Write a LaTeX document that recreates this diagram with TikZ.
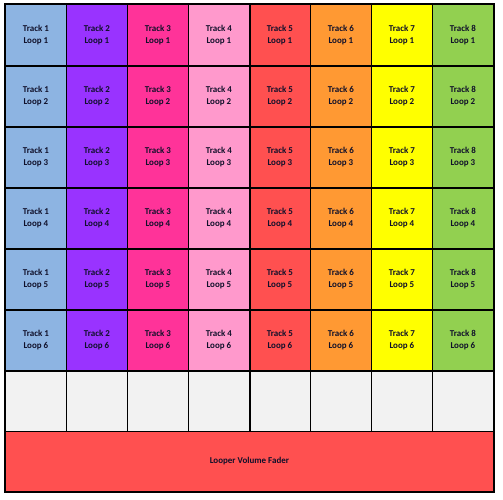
\documentclass[tikz,border=0pt]{standalone}
\usepackage{fontspec}
\setmainfont{Carlito}[BoldFont={Carlito Bold}]
\definecolor{c1}{HTML}{8DB4E2}
\definecolor{c2}{HTML}{9933FF}
\definecolor{c3}{HTML}{FF3399}
\definecolor{c4}{HTML}{FF99CC}
\definecolor{c5}{HTML}{FF5050}
\definecolor{c6}{HTML}{FF9933}
\definecolor{c7}{HTML}{FFFF00}
\definecolor{c8}{HTML}{92D050}
\definecolor{blank}{HTML}{F2F2F2}
\definecolor{fader}{HTML}{FF5050}
\definecolor{txt}{HTML}{10102A}
\tikzset{
  cell/.style={draw=black, line width=0.8bp, minimum width=61bp, minimum height=61bp,
    inner sep=0pt, anchor=north west, align=center, text=txt,
    font=\bfseries\fontsize{9}{12}\selectfont},
  thick line/.style={draw=black, line width=1.6bp}
}
\begin{document}
\begin{tikzpicture}[x=1bp,y=-1bp]
\useasboundingbox (0,0) rectangle (503,500);
\foreach \c in {1,...,8}{
  \foreach \r in {1,...,6}{
    \node[cell, fill=c\c] (t\c l\r) at ({5+61*(\c-1)},{4+61*(\r-1)}) {Track \c\\Loop \r};
  }
  \node[cell, fill=blank] (b\c) at ({5+61*(\c-1)},370) {};
}
\node[cell, fill=fader, minimum width=488bp, minimum height=60bp] (fader) at (5,431) {Looper Volume Fader};
% thick row separators
\foreach \r in {1,...,6}{
  \draw[thick line] (t1l\r.south west) -- (t8l\r.south east);
}
\draw[thick line] (t4l1.north east) -- (b4.south east);
\draw[thick line] (t1l1.north west) rectangle (fader.south east);
\draw[thick line] (t1l1.north west) -- (t8l1.north east);
\end{tikzpicture}
\end{document}
